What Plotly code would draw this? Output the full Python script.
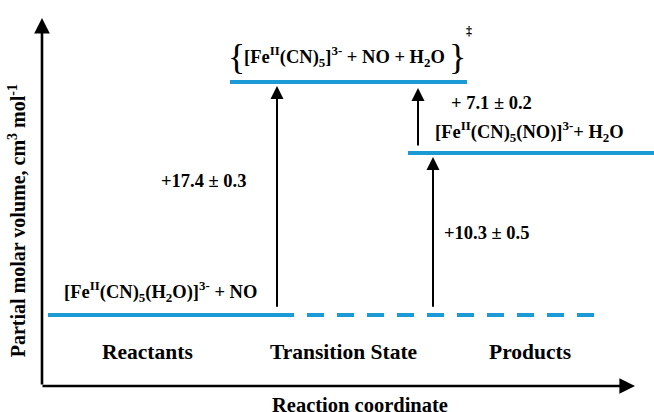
import plotly.graph_objects as go

# ---- data (schematic energy-style diagram, units: cm3 mol-1) ----
stages = ["Reactants", "Transition State", "Products"]
stage_x = [147, 343, 530]                 # reaction-coordinate position of stage names
level_drawn = [0.0, 17.4, 12.1]           # drawn heights of the levels
level_x0 = [48, 230, 408]
level_x1 = [277, 467, 654]
dash_x = [277, 607]                       # dashed reference at reactant level

level_labels = [
    "[Fe<sup>II</sup>(CN)<sub>5</sub>(H<sub>2</sub>O)]<sup>3-</sup> + NO",
    "[Fe<sup>II</sup>(CN)<sub>5</sub>]<sup>3-</sup> + NO + H<sub>2</sub>O",
    "[Fe<sup>II</sup>(CN)<sub>5</sub>(NO)]<sup>3-</sup>+ H<sub>2</sub>O",
]
level_label_x = [62, 242, 433]
level_label_y = [1.72, 19.3, 13.67]

increments = ["+17.4 ± 0.3", "+ 7.1 ± 0.2", "+10.3 ± 0.5"]
inc_x = [159, 449, 442]
inc_y = [10.0, 15.83, 6.12]
# arrows: (x, from level index, to level index)
arrows = [(277, 0, 1), (418, 2, 1), (433, 0, 2)]

BLUE = "#1B9AD6"
FONT = "Liberation Serif"

fig = go.Figure()

for i in range(3):
    fig.add_trace(go.Scatter(x=[level_x0[i], level_x1[i]], y=[level_drawn[i]] * 2,
                             mode="lines", line=dict(color=BLUE, width=4),
                             hoverinfo="skip", showlegend=False))
fig.add_trace(go.Scatter(x=dash_x, y=[level_drawn[0]] * 2, mode="lines",
                         line=dict(color=BLUE, width=4, dash="17px,13px"),
                         hoverinfo="skip", showlegend=False))

ann = []
# vertical arrows between levels
for (ax_, lo, hi) in arrows:
    tail = level_drawn[lo] + (0.5 if lo == 0 else 0.45)
    head = level_drawn[hi] - (0.3 if lo == 0 else 0.45)
    ann.append(dict(x=ax_, y=head, ax=ax_, ay=tail, xref="x", yref="y", axref="x", ayref="y",
                    text="", showarrow=True, arrowhead=2, arrowsize=1.3, arrowwidth=2,
                    arrowcolor="black", standoff=0, startstandoff=0))

# axes drawn as arrows
y_axis_bottom = -5.3
ann.append(dict(x=42, y=22.18, ax=42, ay=y_axis_bottom, xref="x", yref="y", axref="x", ayref="y",
                text="", showarrow=True, arrowhead=2, arrowsize=1.2, arrowwidth=2.6,
                arrowcolor="black", standoff=0))
ann.append(dict(x=635, y=y_axis_bottom, ax=41, ay=y_axis_bottom, xref="x", yref="y", axref="x", ayref="y",
                text="", showarrow=True, arrowhead=2, arrowsize=1.2, arrowwidth=2.6,
                arrowcolor="black", standoff=0))

bold = dict(family=FONT, size=18.5, color="black")
for t, x, y in zip(level_labels, level_label_x, level_label_y):
    ann.append(dict(x=x, y=y, xref="x", yref="y", text="<b>" + t + "</b>", showarrow=False,
                    xanchor="left", yanchor="middle", font=bold))
for t, x, y in zip(increments, inc_x, inc_y):
    ann.append(dict(x=x, y=y, xref="x", yref="y", text="<b>" + t + "</b>", showarrow=False,
                    xanchor="left", yanchor="middle", font=bold))

# braces and double dagger around transition-state label
ann.append(dict(x=236, y=19.25, xref="x", yref="y", text="{", showarrow=False,
                font=dict(family=FONT, size=36, color="black")))
ann.append(dict(x=457, y=19.25, xref="x", yref="y", text="}", showarrow=False,
                font=dict(family=FONT, size=36, color="black")))
ann.append(dict(x=469, y=21.2, xref="x", yref="y", text="<b>‡</b>", showarrow=False,
                font=dict(family=FONT, size=12, color="black")))

for s, x in zip(stages, stage_x):
    ann.append(dict(x=x, y=-2.76, xref="x", yref="y", text="<b>" + s + "</b>", showarrow=False,
                    font=dict(family=FONT, size=21.5, color="black")))

ann.append(dict(x=360, y=-6.75, xref="x", yref="y", text="<b>Reaction coordinate</b>",
                showarrow=False, font=dict(family=FONT, size=20.5, color="black")))
ann.append(dict(x=17, y=7.0, xref="x", yref="y",
                text="<b>Partial molar volume, cm<sup>3</sup> mol<sup>-1</sup></b>",
                showarrow=False, textangle=-90, font=dict(family=FONT, size=20, color="black")))

fig.update_layout(
    width=654, height=412, margin=dict(l=0, r=0, t=0, b=0),
    paper_bgcolor="white", plot_bgcolor="white",
    xaxis=dict(range=[0, 654], visible=False, fixedrange=True),
    yaxis=dict(range=[-7.244, 23.524], visible=False, fixedrange=True),
    annotations=ann, showlegend=False,
)

fig.write_html("out.html")
